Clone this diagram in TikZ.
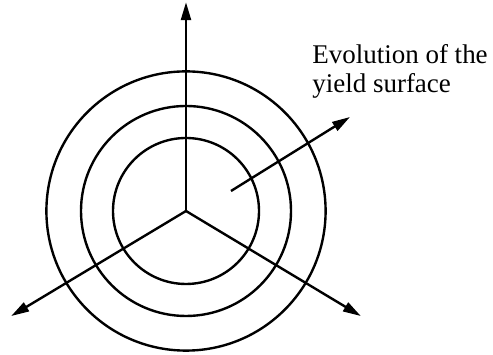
\documentclass[tikz,border=0pt]{standalone}
\usepackage{fontspec}
\setmainfont{Liberation Serif}
\usetikzlibrary{arrows.meta}

\begin{document}
\begin{tikzpicture}[
    stressaxis/.style={line width=1.7pt, -{Triangle[length=0.45cm, width=0.25cm]}},
    yieldcircle/.style={line width=1.7pt}
  ]
  \useasboundingbox (0,0) rectangle (12.325,8.875);
  \coordinate (O) at (4.65,3.6);
  % yield surfaces
  \foreach \r in {1.825, 2.625, 3.49}
    \draw[yieldcircle] (O) circle (\r);
  % principal stress axes
  \path (O) ++(90:5.22) coordinate (s1);
  \path (O) ++(211:5.1) coordinate (s2);
  \path (O) ++(329:5.1) coordinate (s3);
  \draw[stressaxis] (O) -- (s1);
  \draw[stressaxis] (O) -- (s2);
  \draw[stressaxis] (O) -- (s3);
  % evolution direction
  \path (O) ++(1.125,0.5) coordinate (evstart);
  \path (O) ++(4.1,2.35) coordinate (evend);
  \draw[stressaxis] (evstart) -- (evend);
  \node[anchor=north west, align=left, inner sep=0pt,
        font=\fontsize{19.2}{20.5}\selectfont] (evlabel) at (7.8,7.77)
    {Evolution of the\\yield surface};
\end{tikzpicture}
\end{document}
